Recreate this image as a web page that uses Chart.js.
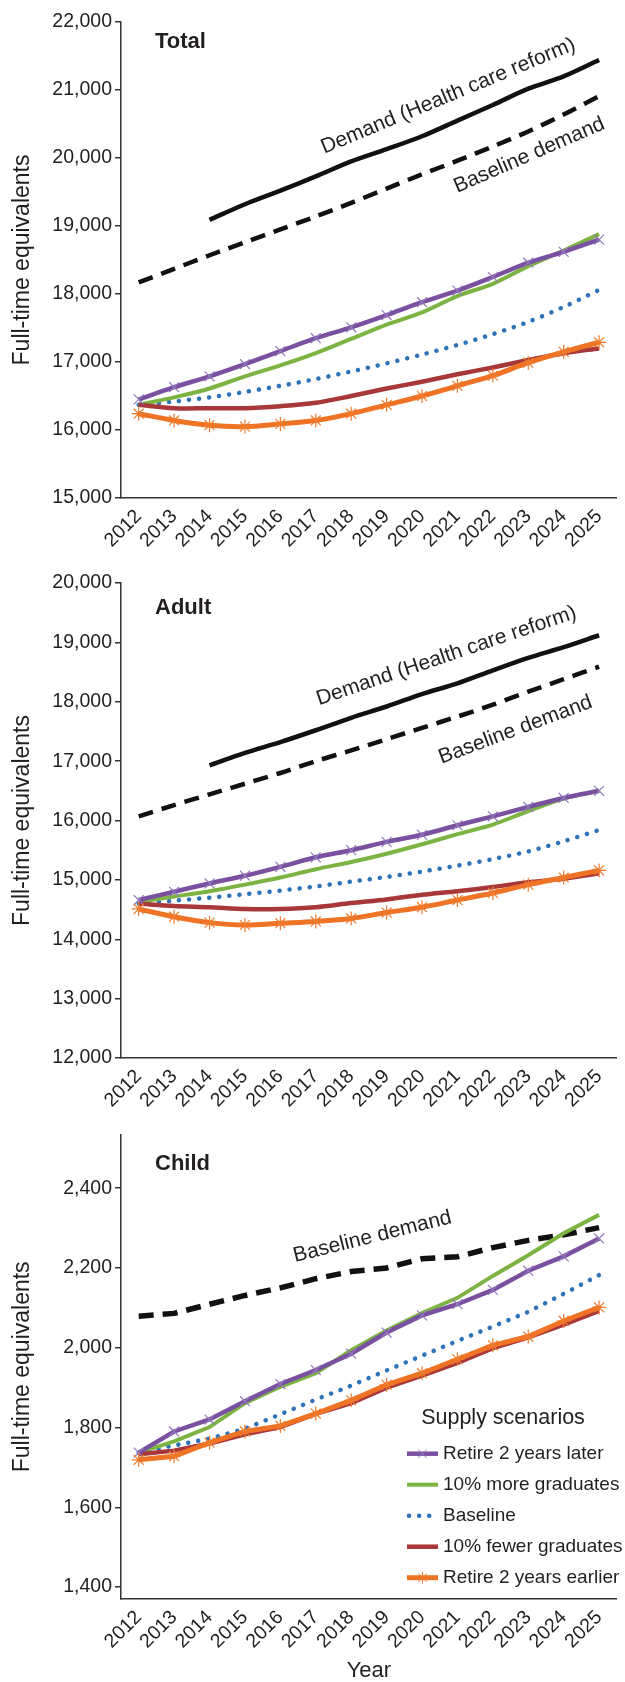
<!DOCTYPE html>
<html>
<head>
<meta charset="utf-8">
<script src="https://cdn.jsdelivr.net/npm/chart.js@4"></script>
<style>
  html, body { margin: 0; padding: 0; background: #fff; }
  .panel { position: absolute; left: 0; width: 625px; }
</style>
</head>
<body>
<div class="panel" style="top:0;height:560px"><canvas id="total"></canvas></div>
<div class="panel" style="top:560px;height:560px"><canvas id="adult"></canvas></div>
<div class="panel" style="top:1120px;height:562px"><canvas id="child"></canvas></div>
<script>
// proyecciones de oferta y demanda, 2012-2025
const years = ["2012", "2013", "2014", "2015", "2016", "2017", "2018", "2019", "2020", "2021", "2022", "2023", "2024", "2025"];

// Total
const totalHcr = [null, null, 19090, 19320, 19520, 19730, 19950, 20130, 20320, 20550, 20780, 21020, 21200, 21440];
const totalDemand = [18170, 18370, 18570, 18760, 18950, 19140, 19340, 19550, 19760, 19960, 20170, 20390, 20640, 20910];
const totalLater = [16450, 16630, 16790, 16970, 17160, 17350, 17510, 17690, 17880, 18050, 18250, 18460, 18620, 18800];
const totalMore = [16370, 16480, 16610, 16790, 16950, 17130, 17340, 17550, 17730, 17970, 18150, 18410, 18640, 18880];
const totalBase = [16370, 16420, 16480, 16560, 16650, 16750, 16860, 16980, 17110, 17250, 17410, 17590, 17810, 18060];
const totalFewer = [16370, 16320, 16320, 16320, 16350, 16400, 16500, 16610, 16710, 16820, 16920, 17030, 17130, 17200];
const totalEarlier = [16240, 16140, 16070, 16050, 16090, 16140, 16240, 16370, 16500, 16650, 16800, 16990, 17150, 17290];

// Adult
const adultHcr = [null, null, 16930, 17140, 17320, 17520, 17730, 17920, 18130, 18310, 18530, 18740, 18920, 19120];
const adultDemand = [16070, 16260, 16440, 16620, 16800, 17000, 17180, 17370, 17560, 17750, 17950, 18170, 18380, 18590];
const adultLater = [14660, 14800, 14940, 15070, 15220, 15380, 15500, 15640, 15760, 15920, 16070, 16230, 16380, 16500];
const adultMore = [14630, 14720, 14810, 14920, 15040, 15180, 15300, 15440, 15600, 15770, 15930, 16160, 16370, 16500];
const adultBase = [14600, 14650, 14700, 14760, 14820, 14890, 14970, 15050, 15140, 15240, 15350, 15480, 15650, 15840];
const adultFewer = [14600, 14560, 14540, 14510, 14510, 14540, 14610, 14670, 14750, 14810, 14880, 14960, 15020, 15110];
const adultEarlier = [14510, 14380, 14280, 14240, 14270, 14300, 14350, 14450, 14540, 14660, 14780, 14920, 15040, 15160];

// Child
const childDemand = [2079, 2086, 2109, 2131, 2150, 2173, 2191, 2200, 2223, 2228, 2251, 2269, 2283, 2301];
const childLater = [1737, 1790, 1820, 1866, 1909, 1944, 1985, 2038, 2081, 2109, 2145, 2193, 2229, 2274];
const childMore = [1737, 1765, 1801, 1861, 1902, 1936, 1994, 2043, 2087, 2125, 2180, 2232, 2287, 2333];
const childBase = [1737, 1755, 1772, 1797, 1833, 1870, 1905, 1943, 1980, 2017, 2053, 2090, 2135, 2182];
const childFewer = [1733, 1742, 1760, 1783, 1801, 1834, 1861, 1900, 1930, 1962, 1999, 2026, 2058, 2092];
const childEarlier = [1719, 1728, 1762, 1790, 1804, 1835, 1868, 1907, 1936, 1971, 2006, 2028, 2067, 2101];
const childTicks = [1400, 1600, 1800, 2000, 2200, 2400];

const scenarioNames = ["Retire 2 years later", "10% more graduates", "Baseline", "10% fewer graduates", "Retire 2 years earlier"];

const font = "'Liberation Sans', Arial, Helvetica, sans-serif";
const ink = "#231f20";
const axisColor = "#333";

Chart.defaults.font.family = font;
Chart.defaults.color = ink;

// textos dentro del grafico: titulo del panel, etiquetas de demanda y leyenda
const notesPlugin = {
  id: "notes",
  afterDatasetsDraw(chart, args, opts) {
    const { ctx, chartArea, scales } = chart;
    ctx.save();
    ctx.fillStyle = ink;
    ctx.textBaseline = "middle";
    ctx.font = "bold 22px " + font;
    ctx.textAlign = "left";
    ctx.fillText(opts.title, chartArea.left + 34, chartArea.top + opts.titleDy);

    ctx.font = "21px " + font;
    ctx.textAlign = "center";
    opts.labels.forEach((l) => {
      const x = scales.x.getPixelForValue(l.x);
      const y = scales.y.getPixelForValue(l.y);
      ctx.save();
      ctx.translate(x, y);
      ctx.rotate((l.angle * Math.PI) / 180);
      ctx.fillText(l.text, 0, 0);
      ctx.restore();
    });

    if (opts.legend) {
      const lx = chartArea.left + 286;
      ctx.font = "21.5px " + font;
      ctx.textAlign = "center";
      ctx.fillText("Supply scenarios", chartArea.left + 382, chartArea.top + 283);
      ctx.font = "19px " + font;
      ctx.textAlign = "left";
      const items = chart.data.datasets
        .filter((ds) => ds.legendIndex !== undefined)
        .sort((a, b) => a.legendIndex - b.legendIndex);
      items.forEach((ds, i) => {
        const y = chartArea.top + 319 + i * 31;
        ctx.save();
        ctx.strokeStyle = ds.borderColor;
        ctx.lineWidth = ds.borderWidth;
        ctx.lineCap = ds.borderCapStyle || "butt";
        ctx.setLineDash(ds.borderDash || []);
        ctx.beginPath();
        ctx.moveTo(ds.borderDash ? lx + 2 : lx, y);
        ctx.lineTo(lx + 31, y);
        ctx.stroke();
        ctx.setLineDash([]);
        if (ds.pointRadius) {
          ctx.strokeStyle = ds.pointBorderColor;
          ctx.lineWidth = 1;
          Chart.helpers.drawPoint(ctx, { pointStyle: ds.pointStyle, radius: 6, borderWidth: 1, rotation: 0 }, lx + 15.5, y);
        }
        ctx.restore();
        ctx.fillText(ds.label, lx + 36, y);
      });
    }
    ctx.restore();
  },
};

function buildSets(d, tension, demandWidth) {
  return [
    {
      label: scenarioNames[4], data: d.earlier, legendIndex: 4,
      borderColor: "#ee7324", borderWidth: 5, tension: tension,
      pointStyle: "star", pointRadius: 7, pointBorderWidth: 1.2,
      pointBorderColor: "#f07a2c", pointBackgroundColor: "transparent",
    },
    {
      label: scenarioNames[0], data: d.later, legendIndex: 0,
      borderColor: "#7a51a0", borderWidth: 4.5, tension: tension,
      pointStyle: "crossRot", pointRadius: 7, pointBorderWidth: 1.2,
      pointBorderColor: "#9378bd", pointBackgroundColor: "transparent",
    },
    {
      label: scenarioNames[3], data: d.fewer, legendIndex: 3,
      borderColor: "#a8373a", borderWidth: 4.5, tension: tension, pointRadius: 0,
    },
    {
      label: scenarioNames[1], data: d.more, legendIndex: 1,
      borderColor: "#7cb342", borderWidth: 4, tension: tension, pointRadius: 0,
    },
    {
      label: scenarioNames[2], data: d.base, legendIndex: 2,
      borderColor: "#2e72b8", borderWidth: 4.5, borderDash: [0.1, 10], borderCapStyle: "round",
      tension: tension, pointRadius: 0,
    },
    d.hcr && {
      label: "Demand (Health care reform)", data: d.hcr,
      borderColor: "#111", borderWidth: 4.5, tension: tension, pointRadius: 0,
    },
    {
      label: "Baseline demand", data: d.demand,
      borderColor: "#111", borderWidth: demandWidth, borderDash: [15, 9], tension: tension, pointRadius: 0,
    },
  ].filter(Boolean);
}

function makePanel(id, d, cfg) {
  return new Chart(document.getElementById(id), {
    type: "line",
    data: { labels: years, datasets: buildSets(d, cfg.tension, cfg.demandWidth || 4.5) },
    plugins: [notesPlugin],
    options: {
      responsive: true,
      maintainAspectRatio: false,
      animation: false,
      layout: { padding: { top: cfg.top, right: 0, bottom: 0, left: 0 } },
      plugins: {
        legend: { display: false },
        tooltip: { enabled: false },
        notes: { title: cfg.title, titleDy: cfg.titleDy, labels: cfg.labels, legend: cfg.legend },
      },
      scales: {
        x: {
          offset: true,
          grid: { display: false, drawTicks: false },
          border: { display: true, color: axisColor, width: 1.5 },
          ticks: { minRotation: 45, maxRotation: 45, autoSkip: false, padding: 7, font: { size: 19.5 } },
          title: cfg.xTitle
            ? { display: true, text: "Year", font: { size: 22, lineHeight: 1 }, padding: { top: 0, bottom: 0 } }
            : { display: false },
          afterFit: (s) => { s.height = cfg.xHeight; },
        },
        y: {
          min: cfg.min,
          max: cfg.max,
          afterBuildTicks: cfg.ticks ? (s) => { s.ticks = cfg.ticks.map((v) => ({ value: v })); } : undefined,
          grid: { display: true, drawOnChartArea: false, drawTicks: true, tickLength: 6, color: axisColor, lineWidth: 1.5 },
          border: { display: true, color: axisColor, width: 1.5 },
          ticks: {
            stepSize: cfg.step, padding: 3, font: { size: 19.5 },
            callback: (v) => v.toLocaleString("en-US"),
          },
          title: { display: true, text: "Full-time equivalents", font: { size: 23 }, padding: { top: 9, bottom: 0 } },
          afterFit: (s) => { s.width = 121; },
        },
      },
    },
  });
}

makePanel("total",
  { hcr: totalHcr, demand: totalDemand, later: totalLater, more: totalMore, base: totalBase, fewer: totalFewer, earlier: totalEarlier },
  {
    title: "Total", titleDy: 20, top: 22, xHeight: 62, min: 15000, max: 22000, step: 1000, tension: 0.3,
    labels: [
      { text: "Demand (Health care reform)", x: 8.74, y: 20910, angle: -22.5 },
      { text: "Baseline demand", x: 11.03, y: 20040, angle: -23.5 },
    ],
  });

makePanel("adult",
  { hcr: adultHcr, demand: adultDemand, later: adultLater, more: adultMore, base: adultBase, fewer: adultFewer, earlier: adultEarlier },
  {
    title: "Adult", titleDy: 25, top: 23, xHeight: 62, min: 12000, max: 20000, step: 1000, tension: 0.3,
    labels: [
      { text: "Demand (Health care reform)", x: 8.69, y: 18770, angle: -18.7 },
      { text: "Baseline demand", x: 10.64, y: 17525, angle: -20.5 },
    ],
  });

makePanel("child",
  { demand: childDemand, later: childLater, more: childMore, base: childBase, fewer: childFewer, earlier: childEarlier },
  {
    title: "Child", titleDy: 29, top: 12, xHeight: 83, min: 1370, max: 2534, ticks: childTicks, tension: 0,
    legend: true, xTitle: true, demandWidth: 5.5,
    labels: [
      { text: "Baseline demand", x: 6.6, y: 2278, angle: -14 },
    ],
  });
</script>
</body>
</html>
